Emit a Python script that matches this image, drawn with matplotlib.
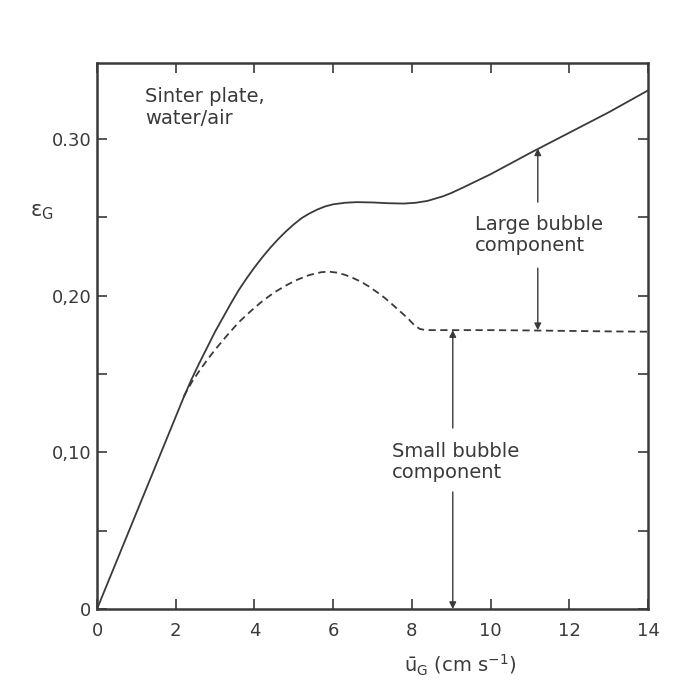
import matplotlib.pyplot as plt
from matplotlib.ticker import MultipleLocator, FixedLocator

# total gas hold-up (solid) and small bubble part (dashed) vs superficial gas velocity
u_total = [0, 2.2, 2.4, 2.6, 2.8, 3.0, 3.2, 3.4, 3.6, 3.8, 4.0, 4.2, 4.4, 4.6,
           4.8, 5.0, 5.2, 5.4, 5.6, 5.8, 6.0, 6.3, 6.6, 7.0, 7.4, 7.8, 8.1,
           8.4, 8.6, 8.8, 9.0, 9.3, 10, 11, 12, 13, 14]
eps_total = [0, 0.135, 0.1465, 0.157, 0.167, 0.177, 0.186, 0.195, 0.2035,
             0.211, 0.218, 0.2245, 0.2305, 0.236, 0.241, 0.2455, 0.2495,
             0.2525, 0.255, 0.257, 0.2583, 0.2593, 0.2597, 0.2595, 0.259,
             0.2588, 0.2593, 0.2605, 0.262, 0.2635, 0.2655, 0.269, 0.2775,
             0.291, 0.304, 0.317, 0.331]

u_small = [2.2, 2.4, 2.6, 2.8, 3.0, 3.3, 3.6, 3.9, 4.2, 4.5, 4.8, 5.1, 5.4,
           5.7, 5.9, 6.1, 6.3, 6.5, 6.7, 6.9, 7.1, 7.3, 7.5, 7.7, 7.9, 8.05,
           8.2, 8.35, 9, 10, 11, 12, 13, 14]
eps_small = [0.1355, 0.1445, 0.152, 0.159, 0.1655, 0.1745, 0.183, 0.190,
             0.1965, 0.202, 0.2065, 0.2103, 0.2132, 0.215, 0.2153, 0.2147,
             0.2133, 0.2113, 0.209, 0.206, 0.2025, 0.1988, 0.1945, 0.190,
             0.1855, 0.1815, 0.1788, 0.178, 0.178, 0.178, 0.1778, 0.1775,
             0.1772, 0.177]

x_ticks = [0, 2, 4, 6, 8, 10, 12, 14]
y_ticks = [0, 0.10, 0.20, 0.30]
y_ticklabels = ["0", "0,10", "0,20", "0.30"]

ink = "#3a3a3a"
plt.rcParams['font.family'] = ['DejaVu Sans']

fig = plt.figure(figsize=(6.99, 6.89), dpi=100)
ax = fig.add_axes([0.1388, 0.1161, 0.7882, 0.7929])

ax.plot(u_total, eps_total, color=ink, lw=1.3)
ax.plot(u_small, eps_small, color=ink, lw=1.3, dashes=(4, 2.5))

ax.set_xlim(0, 14)
ax.set_ylim(0, 0.3487)

ax.xaxis.set_major_locator(FixedLocator(x_ticks))
ax.set_xticklabels([str(v) for v in x_ticks])
ax.yaxis.set_major_locator(FixedLocator(y_ticks))
ax.set_yticklabels(y_ticklabels)
ax.yaxis.set_minor_locator(MultipleLocator(0.05))
ax.tick_params(which='both', direction='in', length=7, width=1.2, color=ink,
               top=True, right=True, labelsize=13, labelcolor=ink, pad=4)
ax.tick_params(axis='x', pad=9)

for sp in ax.spines.values():
    sp.set_linewidth(1.8)
    sp.set_color(ink)

ax.text(-0.10, 0.727, r"ε$_\mathregular{G}$", transform=ax.transAxes,
        fontsize=15, color=ink, ha='center', va='center')
ax.set_xlabel(r"$\mathregular{\bar{u}_G}$ (cm s$^\mathregular{-1}$)",
              fontsize=14, color=ink)
ax.xaxis.set_label_coords(0.66, -0.08)

ax.text(1.22, 0.333, "Sinter plate,\nwater/air", fontsize=14, color=ink,
        va='top', ha='left', linespacing=1.15)

arrow = dict(arrowstyle='-|>', color=ink, lw=1.0, mutation_scale=10,
             shrinkA=0, shrinkB=0)

# small bubble component: between axis and dashed curve
ax.annotate("", xy=(9.04, 0.178), xytext=(9.04, 0.1155), arrowprops=arrow)
ax.annotate("", xy=(9.04, 0.0), xytext=(9.04, 0.0747), arrowprops=arrow)
ax.text(7.5, 0.094, "Small bubble\ncomponent", fontsize=14, color=ink,
        va='center', ha='left', linespacing=1.15)

# large bubble component: between dashed and solid curves
ax.annotate("", xy=(11.2, 0.294), xytext=(11.2, 0.2597), arrowprops=arrow)
ax.annotate("", xy=(11.2, 0.178), xytext=(11.2, 0.2176), arrowprops=arrow)
ax.text(9.6, 0.2387, "Large bubble\ncomponent", fontsize=14, color=ink,
        va='center', ha='left', linespacing=1.15)

fig.savefig("out.png", dpi=100)
